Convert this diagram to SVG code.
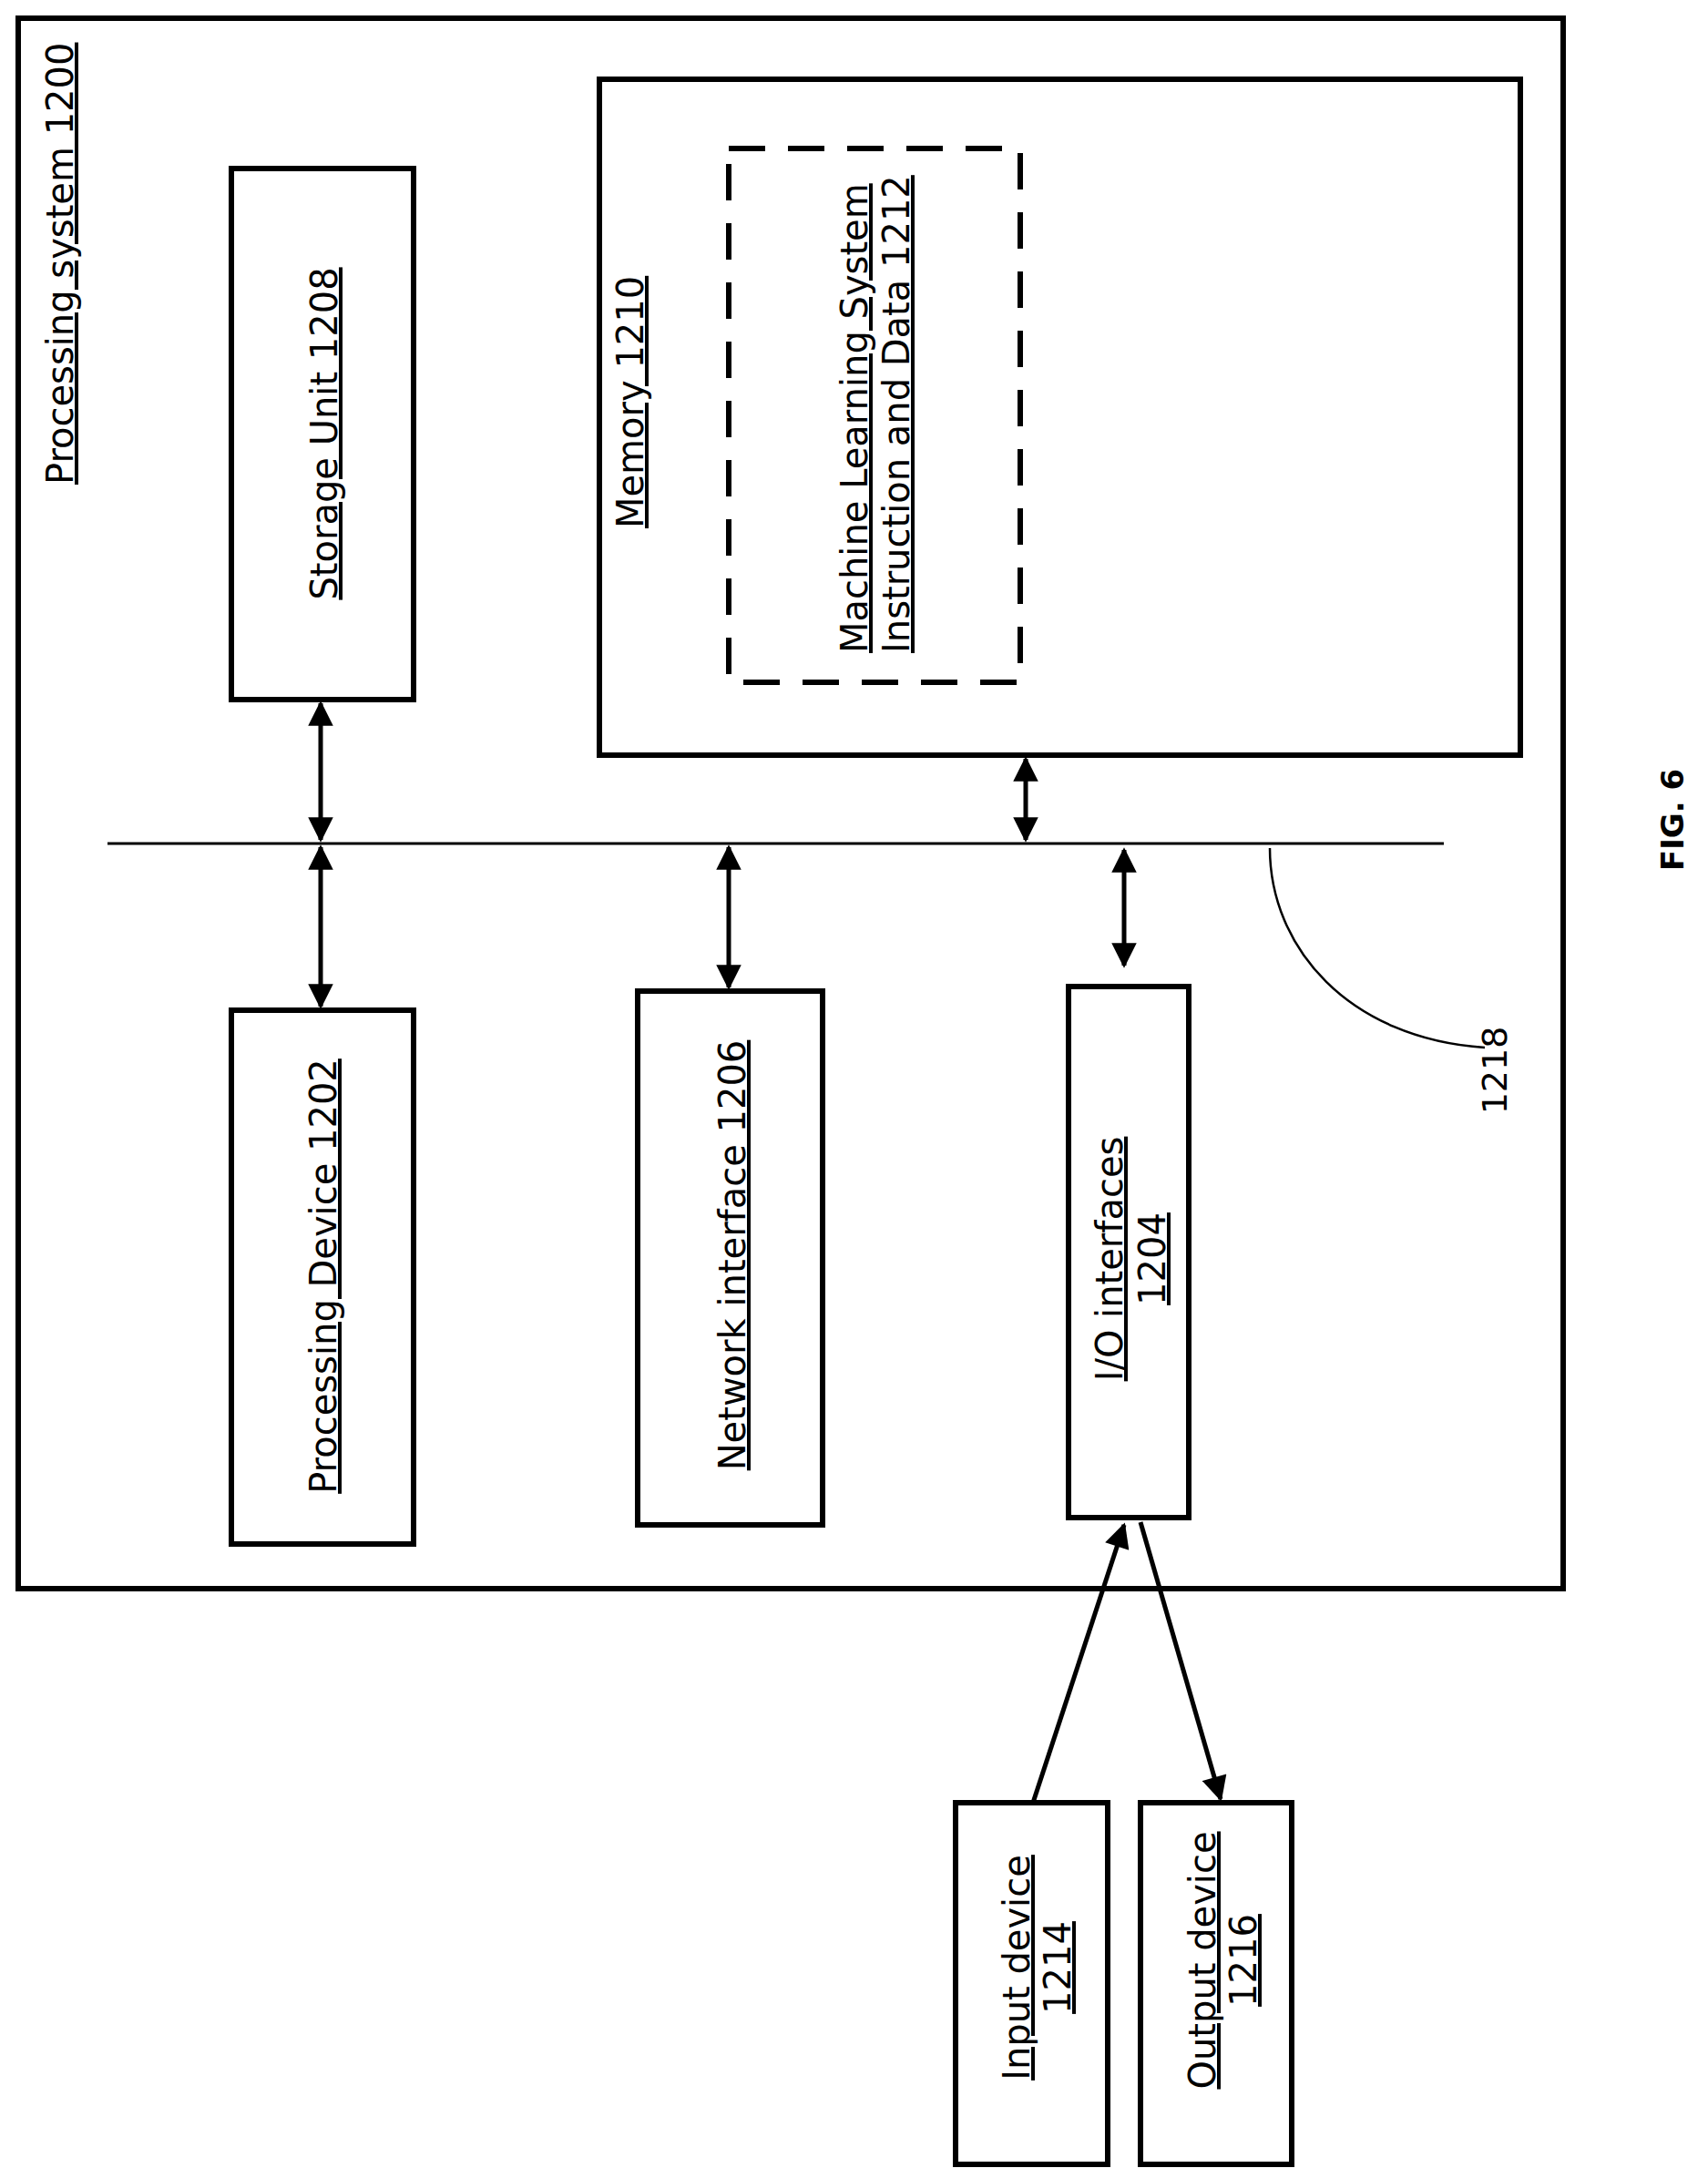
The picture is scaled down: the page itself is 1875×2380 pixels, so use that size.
<svg xmlns="http://www.w3.org/2000/svg" width="1875" height="2380" viewBox="0 0 1875 2380">
<style>
.b{fill:none;stroke:#000;stroke-width:6}
.t{font-family:"DejaVu Sans",sans-serif;font-size:40px;fill:#000;text-decoration:underline}
.c{stroke:#000;stroke-width:5;fill:none}
</style>
<defs>
<marker id="a" viewBox="0 0 10 10" refX="9" refY="5" markerWidth="6" markerHeight="5.5" orient="auto-start-reverse" markerUnits="strokeWidth"><path d="M0,0L10,5L0,10z" fill="#000"/></marker>
</defs>
<rect width="1875" height="2380" fill="#fff"/>
<g id="system"><rect class="b" x="20" y="20" width="1696" height="1724"/>
<text class="t" transform="translate(80,532) rotate(-90)">Processing system 1200</text></g>
<g id="storage"><rect class="b" x="254" y="185" width="200" height="583"/>
<text class="t" text-anchor="middle" transform="translate(370,476) rotate(-90)">Storage Unit 1208</text></g>
<g id="memory"><rect class="b" x="658" y="87" width="1011" height="742"/>
<text class="t" transform="translate(706,580) rotate(-90)">Memory 1210</text></g>
<g id="ml"><rect x="800" y="163" width="320" height="586" fill="none" stroke="#000" stroke-width="6" stroke-dasharray="40,25"/>
<text class="t" transform="translate(952,717) rotate(-90)">Machine Learning System</text>
<text class="t" transform="translate(998,717) rotate(-90)">Instruction and Data 1212</text></g>
<g id="procdev"><rect class="b" x="254" y="1109" width="200" height="586"/>
<text class="t" text-anchor="middle" transform="translate(369,1401) rotate(-90)">Processing Device 1202</text></g>
<g id="network"><rect class="b" x="700" y="1088" width="203" height="586"/>
<text class="t" text-anchor="middle" transform="translate(818,1378) rotate(-90)">Network interface 1206</text></g>
<g id="io"><rect class="b" x="1173" y="1083" width="132" height="583"/>
<text class="t" text-anchor="middle" transform="translate(1232,1382) rotate(-90)">I/O interfaces</text>
<text class="t" text-anchor="middle" transform="translate(1279,1382) rotate(-90)">1204</text></g>
<g id="input"><rect class="b" x="1049" y="1979" width="167" height="397"/>
<text class="t" text-anchor="middle" transform="translate(1130,2160) rotate(-90)">Input device</text>
<text class="t" text-anchor="middle" transform="translate(1175,2160) rotate(-90)">1214</text></g>
<g id="output"><rect class="b" x="1252" y="1979" width="166" height="397"/>
<text class="t" text-anchor="middle" transform="translate(1334,2152) rotate(-90)">Output device</text>
<text class="t" text-anchor="middle" transform="translate(1379,2152) rotate(-90)">1216</text></g>
<g id="connectors">
<line x1="118" y1="926" x2="1585" y2="926" stroke="#000" stroke-width="3"/>
<line class="c" x1="352" y1="772" x2="352" y2="922" marker-start="url(#a)" marker-end="url(#a)"/>
<line class="c" x1="352" y1="930" x2="352" y2="1105" marker-start="url(#a)" marker-end="url(#a)"/>
<line class="c" x1="800" y1="930" x2="800" y2="1084" marker-start="url(#a)" marker-end="url(#a)"/>
<line class="c" x1="1126" y1="833" x2="1126" y2="922" marker-start="url(#a)" marker-end="url(#a)"/>
<line class="c" x1="1234" y1="933" x2="1234" y2="1060" marker-start="url(#a)" marker-end="url(#a)"/>
<line class="c" x1="1134" y1="1979" x2="1234" y2="1674" marker-end="url(#a)"/>
<line class="c" x1="1252" y1="1671" x2="1340" y2="1975" marker-end="url(#a)"/>
<path d="M1394,931 C1394,1040 1480,1140 1630,1150" fill="none" stroke="#000" stroke-width="2.5"/>
</g>
<text transform="translate(1654,1175) rotate(-90)" text-anchor="middle" font-family="DejaVu Sans,sans-serif" font-size="38">1218</text>
<text transform="translate(1848,900) rotate(-90)" text-anchor="middle" font-family="DejaVu Sans,sans-serif" font-size="34" font-weight="bold">FIG. 6</text>
</svg>
